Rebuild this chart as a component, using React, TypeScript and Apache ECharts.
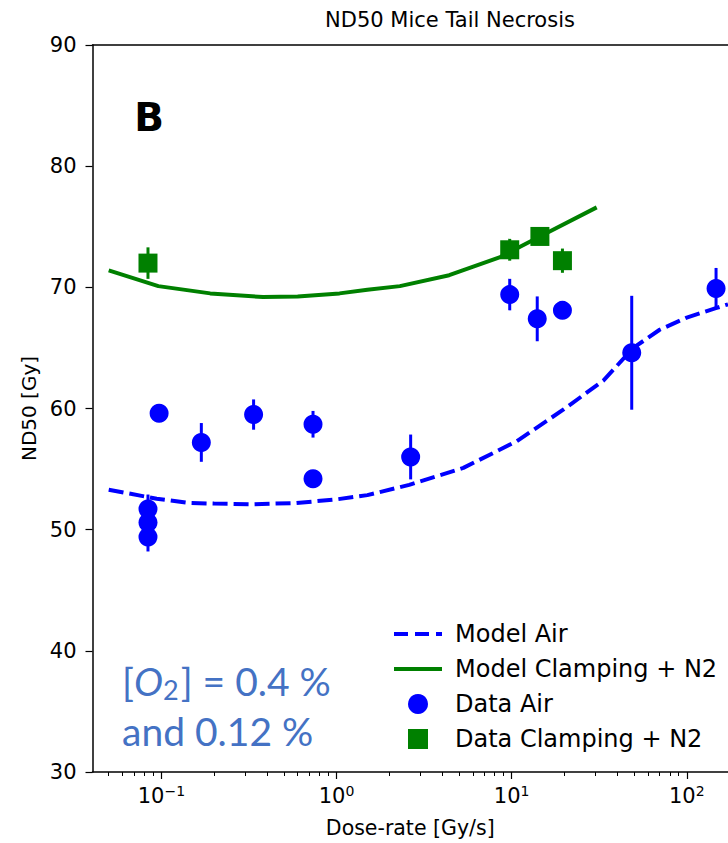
import React, { useEffect, useRef } from "react";
import * as echarts from "echarts";

const FONT = "DejaVu Sans";

// Model curves
const modelAirX = [0.05, 0.094, 0.145, 0.2, 0.33, 0.59, 1.0, 1.5, 2.6, 5.3, 10.7, 19.7, 33.4, 49.5, 70, 100, 148, 172];
const modelAirY = [53.3, 52.55, 52.2, 52.15, 52.1, 52.2, 52.5, 52.85, 53.7, 55.1, 57.3, 59.9, 62.3, 65.0, 66.5, 67.5, 68.3, 68.6];
const modelN2X = [0.05, 0.096, 0.19, 0.38, 0.6, 1.04, 1.5, 2.3, 4.4, 8.6, 14.5, 30.6];
const modelN2Y = [71.4, 70.1, 69.5, 69.2, 69.25, 69.5, 69.8, 70.1, 71.0, 72.5, 74.2, 76.6];

// Data points with error bars
const airX = [0.0838, 0.0838, 0.0838, 0.097, 0.169, 0.336, 0.734, 0.734, 2.65, 9.75, 14.0, 19.5, 48.5, 147];
const airY = [51.7, 50.6, 49.4, 59.6, 57.2, 59.5, 58.7, 54.2, 56.0, 69.4, 67.4, 68.1, 64.6, 69.9];
const airErr = [1.2, 0.8, 1.2, 0, 1.6, 1.25, 1.1, 0, 1.85, 1.3, 1.85, 0, 4.7, 1.7];
const n2X = [0.0838, 9.75, 14.5, 19.5];
const n2Y = [72.0, 73.1, 74.2, 72.2];
const n2Err = [1.3, 0.9, 0.3, 1.0];

// Axis ticks
const majorTicks = [0.1, 1, 10, 100];
const minorTicks = [0.04, 0.05, 0.06, 0.07, 0.08, 0.09, 0.2, 0.3, 0.4, 0.5, 0.6, 0.7, 0.8, 0.9, 2, 3, 4, 5, 6, 7, 8, 9, 20, 30, 40, 50, 60, 70, 80, 90];
const xMin = 0.0404;
const xMax = 172;
const yTicksMin = 30;
const yTicksMax = 90;

const BLUE = "#0000ff";
const GREEN = "#008000";

export default function App() {
  const ref = useRef<HTMLDivElement>(null);
  useEffect(() => {
    if (!ref.current) return;
    const chart = echarts.init(ref.current, undefined, { renderer: "svg" });
    const errRender = (color: string) => (params: any, api: any) => {
      const x = api.value(0), y = api.value(1), e = api.value(2);
      if (!e) return null;
      const t = api.coord([x, y + e]);
      const b = api.coord([x, y - e]);
      return {
        type: "line",
        shape: { x1: t[0], y1: t[1], x2: b[0], y2: b[1] },
        style: { stroke: color, lineWidth: 3 },
      };
    };
    const hiddenSymbol = { color: "rgba(0,0,0,0)", borderWidth: 0, opacity: 0 };
    const option: any = {
      animation: false,
      backgroundColor: "#ffffff",
      grid: { left: 92.5, top: 45, right: 0, bottom: 69, containLabel: false },
      xAxis: [
        {
          type: "log",
          min: xMin,
          max: xMax,
          position: "bottom",
          name: "Dose-rate [Gy/s]",
          nameLocation: "middle",
          nameGap: 45,
          nameTextStyle: { fontFamily: FONT, fontSize: 20.5, color: "#000" },
          axisLine: { show: true, lineStyle: { color: "#000", width: 1.5 } },
          axisTick: { show: true, inside: false, length: 7, lineStyle: { color: "#000", width: 1.2 }, customValues: majorTicks },
          axisLabel: {
            show: true,
            margin: 12,
            customValues: majorTicks,
            formatter: (v: number) => {
              const e = Math.round(Math.log10(v));
              return `{b|10}{s|${e < 0 ? "\u2212" + -e : e}}`;
            },
            rich: {
              b: { fontFamily: FONT, fontSize: 21, color: "#000", lineHeight: 24 },
              s: { fontFamily: FONT, fontSize: 14, color: "#000", lineHeight: 16, verticalAlign: "top" },
            },
          },
          splitLine: { show: false },
          minorTick: { show: false },
        },
        {
          type: "log",
          min: xMin,
          max: xMax,
          position: "bottom",
          axisLine: { show: false },
          axisTick: { show: true, inside: false, length: 4, lineStyle: { color: "#000", width: 1 }, customValues: minorTicks },
          axisLabel: { show: false },
          splitLine: { show: false },
        },
        {
          type: "log",
          min: xMin,
          max: xMax,
          position: "top",
          axisLine: { show: true, lineStyle: { color: "#000", width: 1.5 } },
          axisTick: { show: false },
          axisLabel: { show: false },
          splitLine: { show: false },
        },
      ],
      yAxis: {
        type: "value",
        min: yTicksMin,
        max: yTicksMax,
        interval: 10,
        name: "ND50 [Gy]",
        nameLocation: "middle",
        nameGap: 52,
        nameTextStyle: { fontFamily: FONT, fontSize: 20, color: "#000" },
        axisLine: { show: true, lineStyle: { color: "#000", width: 1.5 } },
        axisTick: { show: true, inside: false, length: 7, lineStyle: { color: "#000", width: 1.2 } },
        axisLabel: { fontFamily: FONT, fontSize: 21, color: "#000", margin: 16 },
        splitLine: { show: false },
      },
      legend: {
        orient: "vertical",
        left: 387,
        top: 617,
        itemWidth: 48,
        itemHeight: 20,
        itemGap: 11,
        textStyle: { fontFamily: FONT, fontSize: 24, color: "#000", lineHeight: 24, padding: [0, 0, 0, 8] },
        data: [
          { name: "Model Air", itemStyle: hiddenSymbol, lineStyle: { width: 4, type: [14, 7] } },
          { name: "Model Clamping + N2", itemStyle: hiddenSymbol, lineStyle: { width: 4 } },
          { name: "Data Air", icon: "circle" },
          { name: "Data Clamping + N2", icon: "path://M0,0L10,0L10,10L0,10Z" },
        ],
      },
      graphic: [
        {
          type: "text",
          x: 450,
          y: 20,
          style: { text: "ND50 Mice Tail Necrosis", fontFamily: FONT, fontSize: 21, fill: "#000", align: "center", verticalAlign: "middle" },
        },
        {
          type: "text",
          x: 149,
          y: 117,
          style: { text: "B", fontFamily: FONT, fontSize: 39, fontWeight: "bold", fill: "#000", align: "center", verticalAlign: "middle" },
        },
        {
          type: "text",
          x: 122,
          y: 681,
          style: {
            text: "{n|[}{i|O}{sub|2}{n|] = 0.4 %}",
            verticalAlign: "middle",
            align: "left",
            rich: {
              n: { fontFamily: "Lato", fontSize: 39, fill: "#4472c4", lineHeight: 44 },
              i: { fontFamily: "Lato", fontSize: 39, fontStyle: "italic", fill: "#4472c4", lineHeight: 44 },
              sub: { fontFamily: "Lato", fontSize: 27, fill: "#4472c4", lineHeight: 30, verticalAlign: "bottom", padding: [0, 2, 0, 0] },
            },
          },
        },
        {
          type: "text",
          x: 122,
          y: 731,
          style: { text: "and 0.12 %", fontFamily: "Lato", fontSize: 39, fill: "#4472c4", align: "left", verticalAlign: "middle" },
        },
      ],
      series: [
        {
          name: "Model Air",
          type: "line",
          xAxisIndex: 0,
          data: modelAirX.map((x, i) => [x, modelAirY[i]]),
          showSymbol: false,
          symbol: "none",
          lineStyle: { color: BLUE, width: 4, type: [15, 6] },
          itemStyle: { color: BLUE },
          z: 2,
        },
        {
          name: "Model Clamping + N2",
          type: "line",
          xAxisIndex: 0,
          data: modelN2X.map((x, i) => [x, modelN2Y[i]]),
          showSymbol: false,
          symbol: "none",
          lineStyle: { color: GREEN, width: 4 },
          itemStyle: { color: GREEN },
          z: 2,
        },
        {
          name: "errAir",
          type: "custom",
          xAxisIndex: 0,
          data: airX.map((x, i) => [x, airY[i], airErr[i]]),
          encode: { x: 0, y: 1 },
          renderItem: errRender(BLUE),
          z: 3,
        },
        {
          name: "errN2",
          type: "custom",
          xAxisIndex: 0,
          data: n2X.map((x, i) => [x, n2Y[i], n2Err[i]]),
          encode: { x: 0, y: 1 },
          renderItem: errRender(GREEN),
          z: 3,
        },
        {
          name: "Data Air",
          type: "scatter",
          xAxisIndex: 0,
          data: airX.map((x, i) => [x, airY[i]]),
          symbol: "circle",
          symbolSize: 19,
          itemStyle: { color: BLUE, opacity: 1 },
          z: 4,
        },
        {
          name: "Data Clamping + N2",
          type: "scatter",
          xAxisIndex: 0,
          data: n2X.map((x, i) => [x, n2Y[i]]),
          symbol: "rect",
          symbolSize: 19,
          itemStyle: { color: GREEN, opacity: 1 },
          z: 4,
        },
      ],
    };
    chart.setOption(option);
    return () => chart.dispose();
  }, []);
  return <div ref={ref} style={{ position: "absolute", left: 0, top: 0, width: 728, height: 843 }} />;
}
